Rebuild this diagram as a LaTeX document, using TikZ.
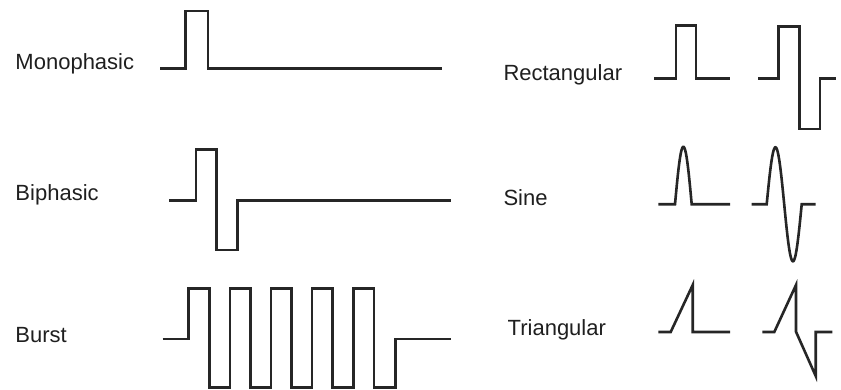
\documentclass[tikz,border=0pt]{standalone}
\usepackage{fontspec}
\setmainfont{Liberation Sans}
\begin{document}
\begin{tikzpicture}[x=1pt,y=-1pt,
  wave/.style={line width=2.6pt,color=black!85,line join=miter},
  lbl/.style={anchor=base west,inner sep=0pt,font=\fontsize{22}{24}\selectfont,text=black!88}]
\useasboundingbox (0,0) rectangle (841,390);

% labels
\node[lbl] (mono) at (15.3,70) {Monophasic};
\node[lbl] (biph) at (15.3,200.5) {Biphasic};
\node[lbl] (burst) at (15.3,342.5) {Burst};
\node[lbl] (rect) at (503.3,81) {Rectangular};
\node[lbl] (sine) at (503.3,206) {Sine};
\node[lbl] (tri) at (507.5,335.5) {Triangular};

% monophasic pulse
\draw[wave] (160,68.3) -- (185.7,68.3) -- (185.7,11) -- (208,11) -- (208,68.3) -- (442,68.3);

% biphasic pulse
\draw[wave] (169,200.3) -- (196,200.3) -- (196,149.3) -- (216.7,149.3) -- (216.7,250)
  -- (237.3,250) -- (237.3,200.3) -- (451,200.3);

% burst
\draw[wave] (162.7,339) -- (188.3,339) -- (188.3,288.3)
  -- (209.5,288.3) -- (209.5,387.3) -- (230,387.3) -- (230,288.3)
  -- (250.7,288.3) -- (250.7,387.3) -- (271,387.3) -- (271,288.3)
  -- (291.7,288.3) -- (291.7,387.3) -- (312,387.3) -- (312,288.3)
  -- (332.7,288.3) -- (332.7,387.3) -- (353.3,387.3) -- (353.3,288.3)
  -- (374,288.3) -- (374,387.3) -- (395.7,387.3) -- (395.7,339) -- (451,339);

% rectangular, mono and biphasic
\draw[wave] (654.3,78.3) -- (676,78.3) -- (676,25.7) -- (696,25.7) -- (696,78.3) -- (730,78.3);
\draw[wave] (758.3,78.8) -- (778.3,78.8) -- (778.3,26.7) -- (799.3,26.7) -- (799.3,129)
  -- (820,129) -- (820,78.8) -- (836,78.8);

% sine, mono and biphasic
\draw[wave] (658.3,204.3) -- (675,204.3)
  -- plot[domain=0:180,samples=40] ({675+16.7*\x/180},{204.3-57.5*sin(\x)})
  -- (730,204.3);
\draw[wave] (751.7,204.3) -- (766.7,204.3)
  -- plot[domain=0:360,samples=80] ({766.7+35*\x/360},{204.3-57*sin(\x)})
  -- (815.7,204.3);

% triangular, mono and biphasic
\draw[wave] (658.3,332) -- (670.7,332) -- (692.7,285) -- (692.7,332) -- (730,332);
\draw[wave] (762.3,332) -- (774.3,332) -- (796,285) -- (796,331.7) -- (815.7,376)
  -- (815.7,332) -- (832.3,332);
\end{tikzpicture}
\end{document}
